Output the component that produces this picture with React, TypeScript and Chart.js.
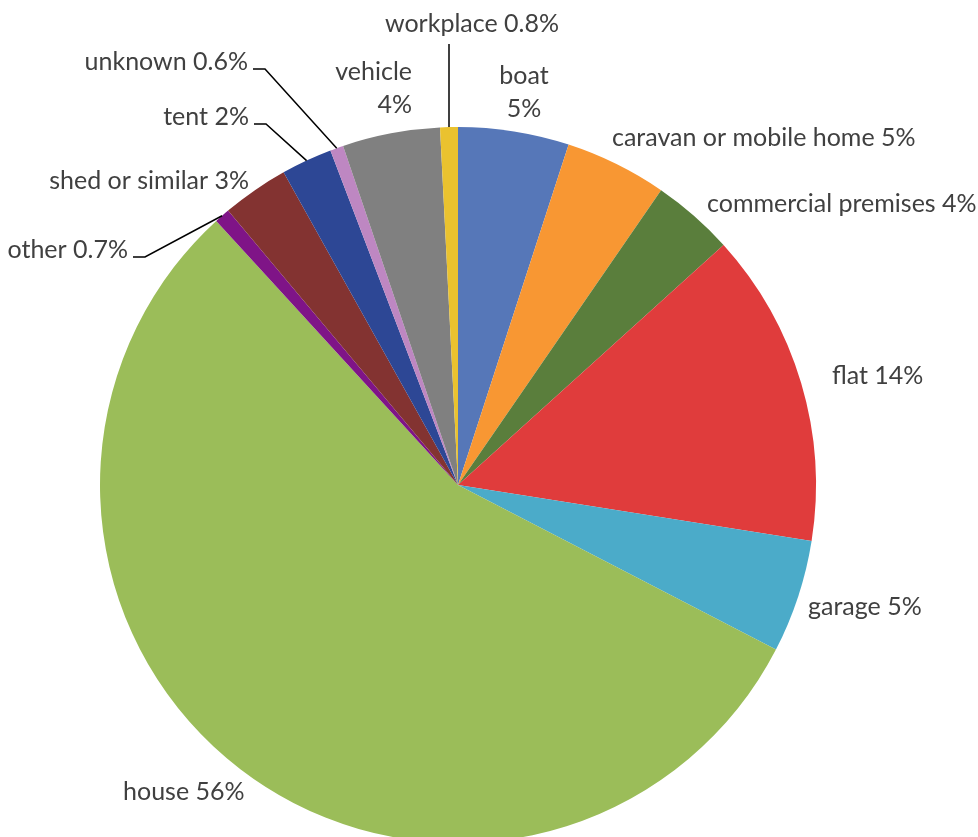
import React, { useEffect, useRef } from "react";
import { Chart, registerables } from "chart.js";

Chart.register(...registerables);

const categories = [
  "boat",
  "caravan or mobile home",
  "commercial premises",
  "flat",
  "garage",
  "house",
  "other",
  "shed or similar",
  "tent",
  "unknown",
  "vehicle",
  "workplace",
];
const values = [5.0, 4.6, 3.7, 14.2, 5.1, 55.6, 0.7, 3.0, 2.3, 0.6, 4.4, 0.8];
const valueLabels = ["5%", "5%", "4%", "14%", "5%", "56%", "0.7%", "3%", "2%", "0.6%", "4%", "0.8%"];
const colors = [
  "#5677B8",
  "#F89733",
  "#5A7E3C",
  "#E03C3C",
  "#4BABC9",
  "#9BBD59",
  "#7F1487",
  "#833331",
  "#2D4795",
  "#BE87C2",
  "#808080",
  "#EAC22F",
];

// label layout: text anchor, alignment, split into two lines, leader style
type LabelPlace = { x: number; y: number; align: CanvasTextAlign; twoLine?: boolean; leader?: "elbow" | "vertical" };
const labelPlaces: LabelPlace[] = [
  { x: 524, y: 76, align: "center", twoLine: true },
  { x: 612, y: 138, align: "left" },
  { x: 707, y: 204, align: "left" },
  { x: 832, y: 376, align: "left" },
  { x: 808, y: 607, align: "left" },
  { x: 123, y: 792, align: "left" },
  { x: 128, y: 250, align: "right", leader: "elbow" },
  { x: 249, y: 181, align: "right" },
  { x: 249, y: 117, align: "right", leader: "elbow" },
  { x: 248, y: 62, align: "right", leader: "elbow" },
  { x: 412, y: 72, align: "right", twoLine: true },
  { x: 472, y: 24, align: "center", leader: "vertical" },
];

const FONT = "25px Lato";
const TEXT_COLOR = "#404040";

const labelPlugin = {
  id: "pieLabels",
  afterDraw(chart: any) {
    const ctx = chart.ctx as CanvasRenderingContext2D;
    const meta = chart.getDatasetMeta(0);
    ctx.save();
    ctx.font = FONT;
    ctx.fillStyle = TEXT_COLOR;
    ctx.textBaseline = "middle";
    meta.data.forEach((arc: any, i: number) => {
      const p = labelPlaces[i];
      const name = categories[i];
      const val = valueLabels[i];
      ctx.textAlign = p.align;
      if (p.twoLine) {
        ctx.fillText(name, p.x, p.y);
        ctx.fillText(val, p.x, p.y + 33);
      } else {
        ctx.fillText(name + " " + val, p.x, p.y);
      }
      if (p.leader) {
        const mid = (arc.startAngle + arc.endAngle) / 2;
        const ex = arc.x + Math.cos(mid) * arc.outerRadius;
        const ey = arc.y + Math.sin(mid) * arc.outerRadius;
        ctx.strokeStyle = "#000000";
        ctx.lineWidth = 1.5;
        ctx.beginPath();
        if (p.leader === "elbow") {
          const ly = p.y + 7;
          ctx.moveTo(p.x + 5, ly);
          ctx.lineTo(p.x + 17, ly);
          ctx.lineTo(ex, ey);
        } else {
          ctx.moveTo(ex, p.y + 20);
          ctx.lineTo(ex, ey);
        }
        ctx.stroke();
      }
    });
    ctx.restore();
  },
};

export default function App() {
  const ref = useRef<HTMLCanvasElement | null>(null);
  useEffect(() => {
    if (!ref.current) return;
    const chart = new Chart(ref.current, {
      type: "pie",
      data: {
        labels: categories,
        datasets: [
          {
            data: values,
            backgroundColor: colors,
            borderWidth: 0,
          },
        ],
      },
      options: {
        responsive: false,
        animation: false,
        layout: { padding: { left: 100, right: 162, top: 127, bottom: 57 } },
        plugins: {
          legend: { display: false },
          tooltip: { enabled: false },
        },
      },
      plugins: [labelPlugin],
    });
    return () => chart.destroy();
  }, []);
  return (
    <div style={{ position: "fixed", left: 0, top: 0, width: 978, height: 837, overflow: "hidden", background: "#fff" }}>
      <canvas ref={ref} width={978} height={900} style={{ display: "block" }} />
    </div>
  );
}
